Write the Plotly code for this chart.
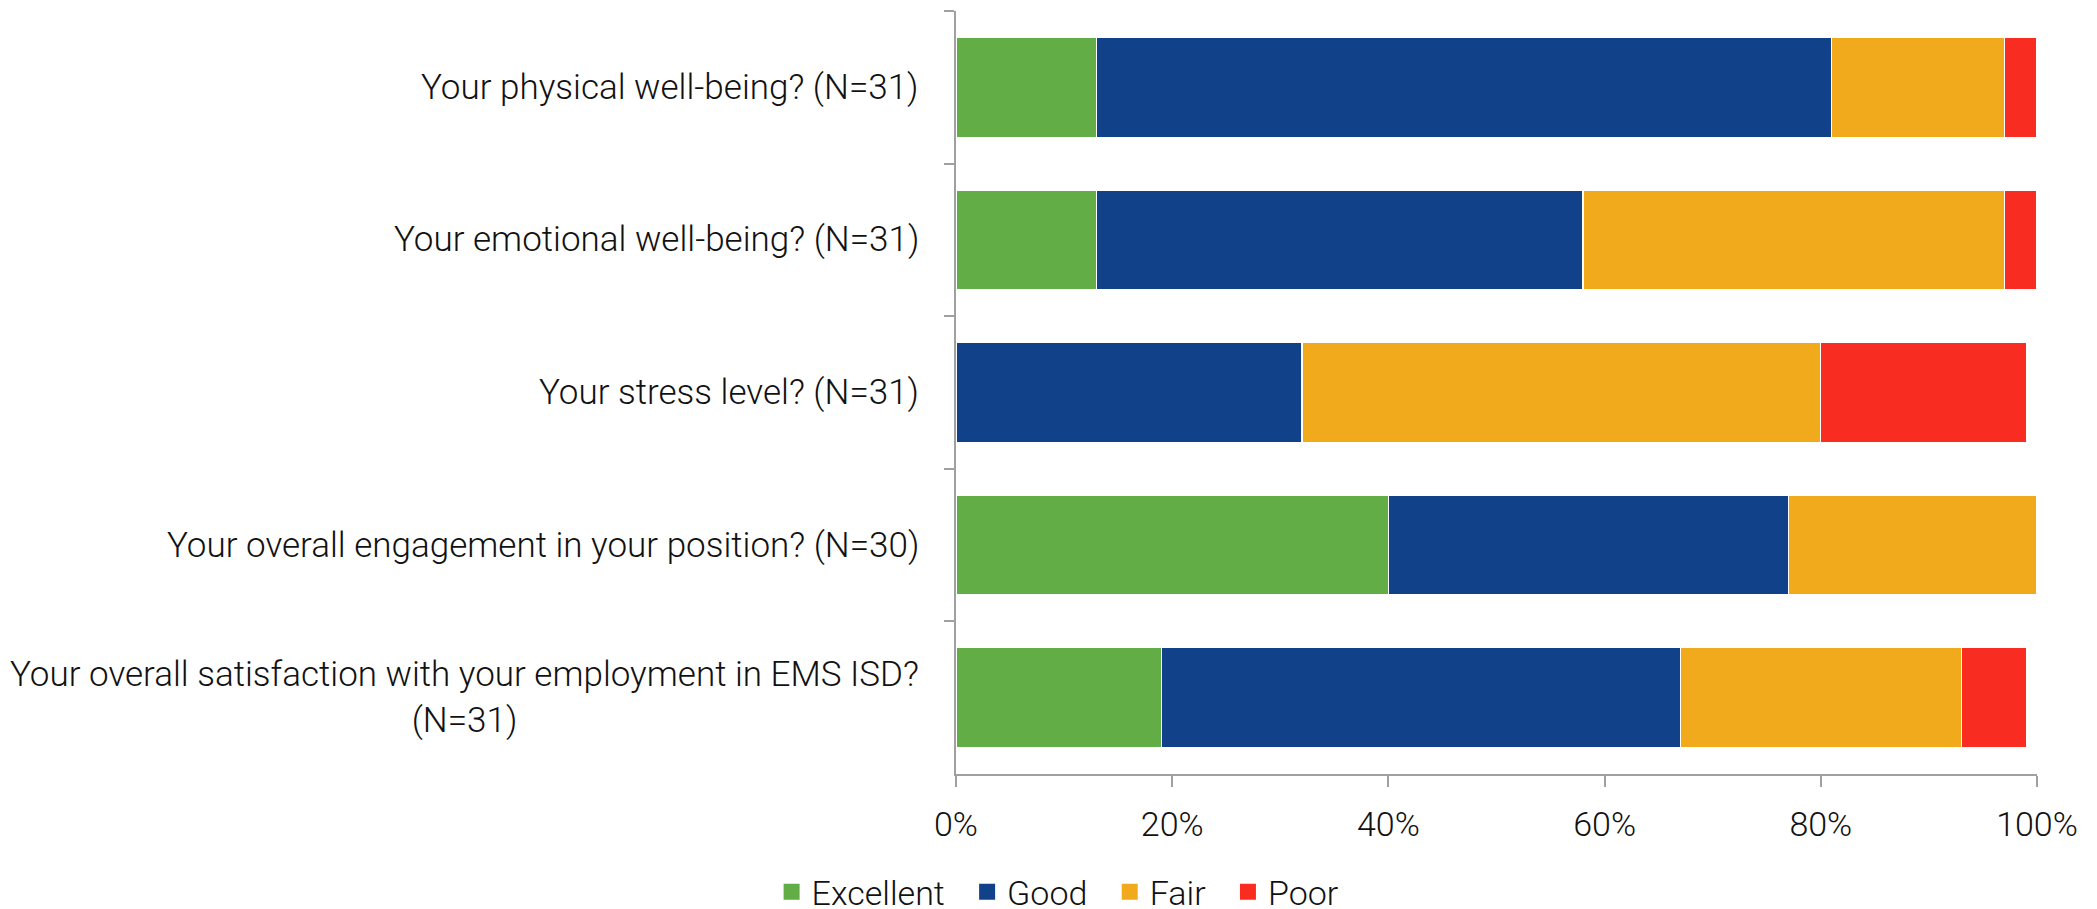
import plotly.graph_objects as go

# Survey items (top to bottom) and response shares in percent
questions = [
    "Your physical well-being? (N=31)",
    "Your emotional well-being? (N=31)",
    "Your stress level? (N=31)",
    "Your overall engagement in your position? (N=30)",
    "Your overall satisfaction with your employment in EMS ISD?<br>(N=31)",
]
excellent = [13, 13, 0, 40, 19]
good = [68, 45, 32, 37, 48]
fair = [16, 39, 48, 23, 26]
poor = [3, 3, 19, 0, 6]

x_ticks = [0, 20, 40, 60, 80, 100]
x_tick_labels = ["0%", "20%", "40%", "60%", "80%", "100%"]

series = [
    ("Excellent", excellent, "#62AD46"),
    ("Good", good, "#114289"),
    ("Fair", fair, "#F0AA1C"),
    ("Poor", poor, "#F92C21"),
]

FONT = dict(family="Roboto, 'Open Sans', sans-serif", size=35, color="#111111", weight=300)
TICK_FONT = dict(FONT, size=34)
AXIS_GREY = "#A0A0A0"
ENTRY_PAD = "\u2002"  # widens the spacing between legend entries

fig = go.Figure()
for name, vals, color in series:
    fig.add_trace(go.Bar(
        y=questions,
        x=vals,
        name=name,
        legendgroup=name,
        showlegend=False,
        orientation="h",
        marker=dict(color=color, line=dict(color="white", width=1.2)),
        hoverinfo="x+name",
    ))

# Legend entries with larger square swatches (no data points of their own)
for i, (name, vals, color) in enumerate(series):
    label = name + (ENTRY_PAD if i < len(series) - 1 else "")
    fig.add_trace(go.Scatter(
        x=[None], y=[None],
        mode="markers",
        name=label,
        legendgroup=name,
        marker=dict(symbol="square", size=17, color=color),
        hoverinfo="skip",
    ))

# Category labels drawn as centred multi-line annotations beside the axis
for q in questions:
    fig.add_annotation(
        x=0, xref="paper", y=q, yref="y",
        text=q, showarrow=False,
        xanchor="right", yanchor="middle", align="center",
        xshift=-35, font=FONT,
    )

fig.update_layout(
    width=2097, height=909,
    margin=dict(l=956, r=60, t=11, b=135, autoexpand=False),
    barmode="stack",
    bargap=0.345,
    paper_bgcolor="white",
    plot_bgcolor="white",
    font=FONT,
    showlegend=True,
    legend=dict(
        orientation="h",
        x=0.094, xanchor="center",
        y=-0.155, yanchor="middle",
        font=TICK_FONT,
        traceorder="normal",
        itemclick=False,
        itemdoubleclick=False,
    ),
    xaxis=dict(
        range=[0, 100],
        tickvals=x_ticks,
        ticktext=x_tick_labels,
        showgrid=False,
        zeroline=False,
        showline=True, linecolor=AXIS_GREY, linewidth=1.5,
        ticks="outside", ticklen=11, tickcolor=AXIS_GREY, tickwidth=1.5,
        ticklabelstandoff=8,
        tickfont=TICK_FONT,
        fixedrange=True,
    ),
    yaxis=dict(
        categoryorder="array",
        categoryarray=questions,
        autorange="reversed",
        showticklabels=False,
        showgrid=False,
        zeroline=False,
        showline=True, linecolor=AXIS_GREY, linewidth=1.5,
        ticks="outside", ticklen=10, tickcolor=AXIS_GREY, tickwidth=1.5,
        tickson="boundaries",
        fixedrange=True,
    ),
)

fig.write_html("out.html")
